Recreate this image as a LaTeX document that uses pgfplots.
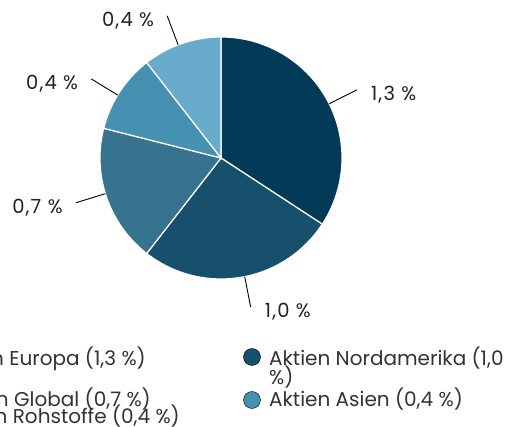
\documentclass[border=0pt]{standalone}
\usepackage{fontspec}
\setmainfont{Poppins}
\newfontfamily\labfont[LetterSpace=6]{Poppins}
\usepackage{pgfplots}
\pgfplotsset{compat=1.18}
\usepackage{pgfplotstable}

\definecolor{cA}{HTML}{033A57}
\definecolor{cB}{HTML}{17506D}
\definecolor{cC}{HTML}{37728E}
\definecolor{cD}{HTML}{4690B2}
\definecolor{cE}{HTML}{69ABCB}
\definecolor{txt}{HTML}{222222}

\pgfplotstableread{
value col
1.3 cA
1.0 cB
0.7 cC
0.4 cD
0.4 cE
}\piedata

\pgfplotstablegetrowsof{\piedata}
\pgfmathtruncatemacro{\lastrow}{\pgfplotsretval-1}
\xdef\pietotal{0}
\foreach \i in {0,...,\lastrow}{%
  \pgfplotstablegetelem{\i}{value}\of\piedata
  \pgfmathsetmacro{\tmp}{\pietotal+\pgfplotsretval}%
  \xdef\pietotal{\tmp}}

\tikzset{lbl/.style={font=\labfont\fontsize{19.5}{22}\selectfont, text=txt, inner sep=0pt},
  leg/.style={font=\fontsize{20}{23}\selectfont, text=black!80, inner sep=0pt}}

\begin{document}
\begin{tikzpicture}
\begin{axis}[
  hide axis, scale only axis,
  width=507pt, height=427pt,
  xmin=0, xmax=507, ymin=0, ymax=427,
  clip=false,
]
% legend markers
\addplot[only marks, mark=*, mark size=8.5pt, mark options={draw=none, fill=cA}] coordinates {(-80,66)};
\addplot[only marks, mark=*, mark size=8.5pt, mark options={draw=none, fill=cB}] coordinates {(252,70)};
\addplot[only marks, mark=*, mark size=8.5pt, mark options={draw=none, fill=cC}] coordinates {(-80,27)};
\addplot[only marks, mark=*, mark size=8.5pt, mark options={draw=none, fill=cD}] coordinates {(252,27)};
\addplot[only marks, mark=*, mark size=8.5pt, mark options={draw=none, fill=cE}] coordinates {(-80,9)};

\pgfplotsextra{
  \xdef\piecum{0}
  \foreach \i in {0,...,\lastrow}{
    \pgfplotstablegetelem{\i}{value}\of\piedata \let\v\pgfplotsretval
    \pgfplotstablegetelem{\i}{col}\of\piedata \let\c\pgfplotsretval
    \pgfmathsetmacro{\sa}{90-360*\piecum/\pietotal}
    \pgfmathsetmacro{\newcum}{\piecum+\v}
    \xdef\piecum{\newcum}
    \pgfmathsetmacro{\ea}{90-360*\piecum/\pietotal}
    \fill[fill=\c, draw=white, line width=1.2pt] (axis cs:221,269) -- ++(\sa:121pt) arc[start angle=\sa, end angle=\ea, radius=121pt] -- cycle;
  }
  \xdef\piecum{0}
  \foreach \i in {0,...,\lastrow}{
    \pgfplotstablegetelem{\i}{value}\of\piedata \let\v\pgfplotsretval
    \pgfmathsetmacro{\sa}{90-360*\piecum/\pietotal}
    \pgfmathsetmacro{\newcum}{\piecum+\v}
    \xdef\piecum{\newcum}
    \pgfmathsetmacro{\ea}{90-360*\piecum/\pietotal}
    \pgfmathsetmacro{\ma}{(\sa+\ea)/2}
    \pgfmathtruncatemacro{\rightside}{cos(\ma)>=0 ? 1 : 0}
    \pgfmathsetmacro{\la}{\ma + ((cos(\ma)*sin(\ma))>=0 ? 1.8 : -1.8)*(\rightside==1 ? -1 : -1)}
    \draw[black, line width=0.9pt] (axis cs:221,269) ++(\la:121pt) -- ++(\la:31pt) coordinate (lend);
    \ifnum\rightside=1
      \node[lbl, anchor=west, xshift=14pt, yshift=-5pt] at (lend) {\pgfmathprintnumber[fixed, fixed zerofill, precision=1, use comma, assume math mode=true]{\v}~\%};
    \else
      \node[lbl, anchor=east, xshift=-13pt, yshift=-5pt] at (lend) {\pgfmathprintnumber[fixed, fixed zerofill, precision=1, use comma, assume math mode=true]{\v}~\%};
    \fi
  }
}
% legend texts
\node[leg, anchor=base east] at (axis cs:146,61) {Aktien Europa (1,3~\%)};
\node[leg, anchor=base west] at (axis cs:269,61) {Aktien Nordamerika (1,0};
\node[leg, anchor=base west] at (axis cs:269,42) {\%)};
\node[leg, anchor=base east] at (axis cs:151,20) {Aktien Global (0,7~\%)};
\node[leg, anchor=base west] at (axis cs:269,20) {Aktien Asien (0,4~\%)};
\node[leg, anchor=base east] at (axis cs:180,3) {Aktien Rohstoffe (0,4~\%)};
\end{axis}
\pgfresetboundingbox
\path[use as bounding box] (current axis.south west) rectangle (current axis.north east);
\end{tikzpicture}
\end{document}
